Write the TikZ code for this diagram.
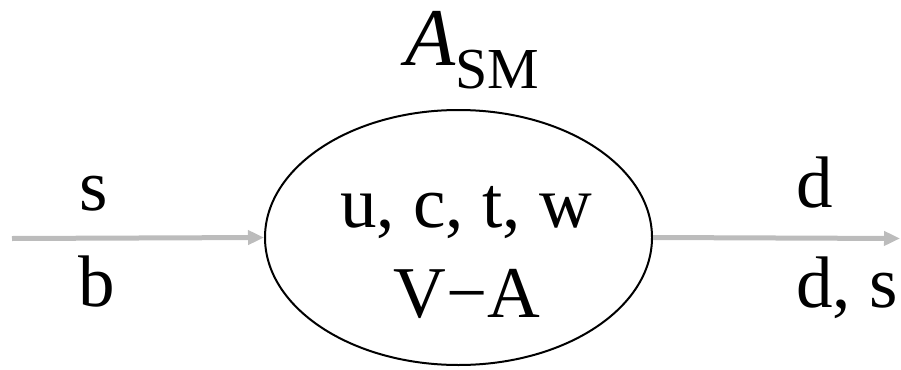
\documentclass[tikz,border=0pt]{standalone}
\usepackage{fontspec}
\setmainfont{Liberation Serif}
\usetikzlibrary{shapes.geometric,arrows.meta}
\definecolor{arrowgray}{RGB}{188,188,188}
\begin{document}
\begin{tikzpicture}[x=1pt,y=-1pt,
  lbl/.style={inner sep=0pt,font=\fontsize{73}{73}\selectfont},
  flow/.style={draw=arrowgray,line width=5pt,-{Triangle[length=16pt,width=14pt]}}]
\useasboundingbox (0,0) rectangle (901,369);
\node[draw=black,line width=2pt,ellipse,inner sep=0pt,minimum width=387pt,minimum height=255pt] (E) at (458.5,237.5) {};
\coordinate (L) at (12,238.5);
\coordinate (R) at (900,238.5);
\draw[flow] (L) -- (E.west);
\draw[flow] (E.east) -- (R);
\node[lbl,anchor=base] (s) at (93.5,210) {s};
\node[lbl,anchor=base] (b) at (97,306) {b};
\node[lbl,anchor=base west] (d1) at (796,207) {d};
\node[lbl,anchor=base west] (d2) at (796,307) {d, s};
\node[lbl,anchor=base] (q) at (466,227) {u, c, t, w};
\node[lbl,anchor=base] (va) at (467,317) {V−A};
\node[inner sep=0pt,anchor=base west] (A) at (405,65) {{\fontsize{82}{82}\selectfont\itshape A}\raisebox{-23pt}{\fontsize{58}{58}\selectfont SM}};
\end{tikzpicture}
\end{document}
